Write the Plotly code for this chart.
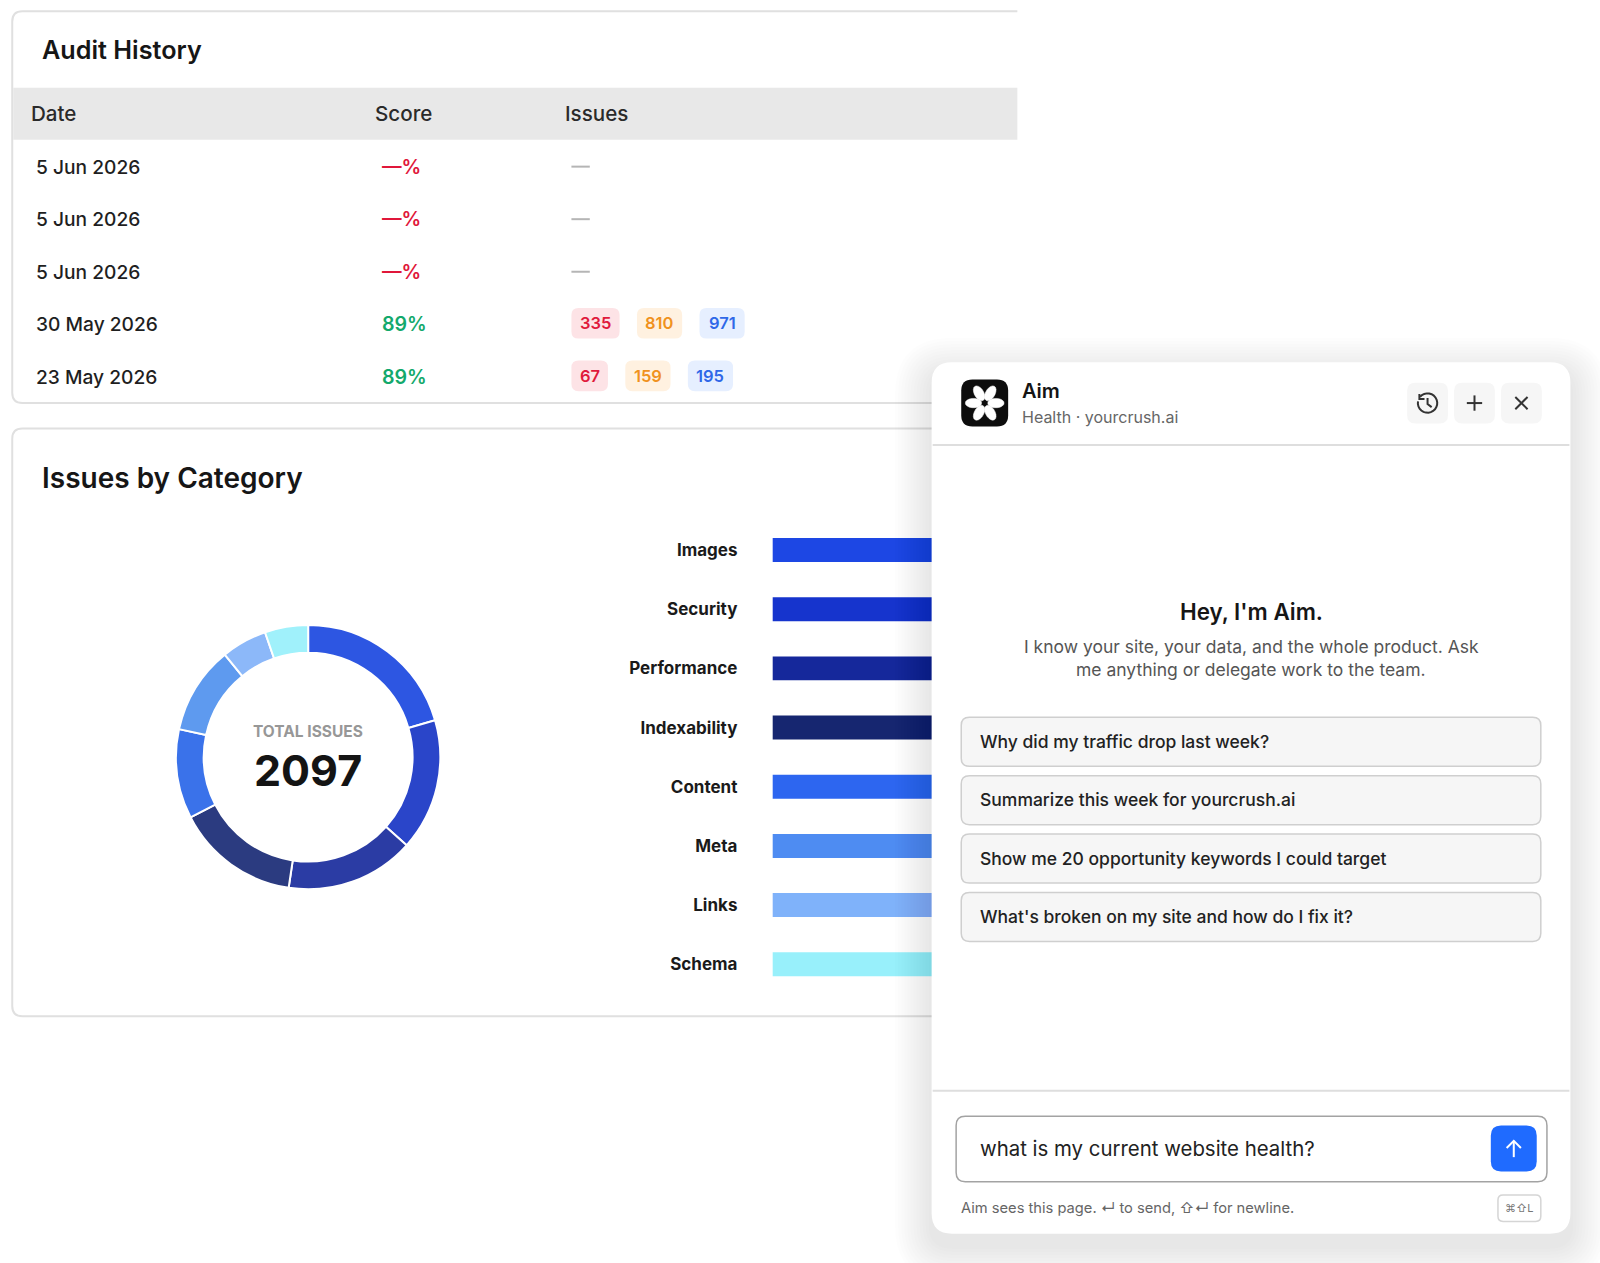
import math
import plotly.graph_objects as go

# Data #########################################################################
audit_dates = ['5 Jun 2026', '5 Jun 2026', '5 Jun 2026', '30 May 2026', '23 May 2026']
audit_scores = ['—%', '—%', '—%', '89%', '89%']
critical_counts = [None, None, None, 335, 67]
warning_counts = [None, None, None, 810, 159]
notice_counts = [None, None, None, 971, 195]
table_columns = ['Date', 'Score', 'Issues']

categories = ['Images', 'Security', 'Performance', 'Indexability',
              'Content', 'Meta', 'Links', 'Schema']
category_values = [430, 338, 330, 317, 229, 225, 117, 111]
bar_colors = ['#1d47e4', '#1634cd', '#15289b', '#162670',
              '#2d66f0', '#4e8cf2', '#7fb2fa', '#98f0fb']
donut_colors = ['#2d56e2', '#2a45c9', '#2b3ca4', '#2b3b80',
                '#3a72ea', '#5e9aef', '#8cb8f9', '#a0f1fb']
total_issues = sum(category_values)

prompts = ['Why did my traffic drop last week?',
           'Summarize this week for yourcrush.ai',
           'Show me 20 opportunity keywords I could target',
           "What's broken on my site and how do I fix it?"]

# Helpers ######################################################################
W, H = 1600, 1263
S = W / 1568  # layout below was measured on a 1568 wide view
FONT = 'Inter'
TEXT_PAD = 2.5  # annotations sit a little right of their anchor

shapes = []
annotations = []


def px(x, y):
    return x * S / W, 1 - y * S / H


def rounded_path(x0, y0, x1, y1, r):
    pts = [('M', x0 + r, y0), ('L', x1 - r, y0), ('Q', x1, y0, x1, y0 + r),
           ('L', x1, y1 - r), ('Q', x1, y1, x1 - r, y1), ('L', x0 + r, y1),
           ('Q', x0, y1, x0, y1 - r), ('L', x0, y0 + r), ('Q', x0, y0, x0 + r, y0)]
    out = ''
    for p in pts:
        coords = p[1:]
        out += p[0]
        bits = []
        for i in range(0, len(coords), 2):
            a, b = px(coords[i], coords[i + 1])
            bits.append(f'{a:.5f},{b:.5f}')
        out += ' '.join(bits) + ' '
    return out + 'Z'


def box(x0, y0, x1, y1, r, fill='rgba(0,0,0,0)', line=None, width=1.5):
    shapes.append(dict(type='path', xref='paper', yref='paper', layer='above',
                       path=rounded_path(x0, y0, x1, y1, r), fillcolor=fill,
                       line=dict(color=line or 'rgba(0,0,0,0)', width=width if line else 0)))


def polyline(points, color, width=2, fill=None, close=False):
    bits = []
    for i, (x, y) in enumerate(points):
        a, b = px(x, y)
        bits.append(('M' if i == 0 else 'L') + f'{a:.5f},{b:.5f}')
    shapes.append(dict(type='path', xref='paper', yref='paper', layer='above',
                       path=' '.join(bits) + (' Z' if close else ''),
                       fillcolor=fill or 'rgba(0,0,0,0)',
                       line=dict(color=color, width=width)))


def label(x, y, text, size, color='#1a1a1a', weight=400, anchor='left'):
    if anchor == 'left':
        x -= TEXT_PAD
    ax, ay = px(x, y)
    annotations.append(dict(xref='paper', yref='paper', x=ax, y=ay, text=text,
                            showarrow=False, xanchor=anchor, yanchor='middle',
                            align=anchor,
                            font=dict(family=FONT, size=size, color=color, weight=weight)))


# Cards ########################################################################
for top, bottom in [(11, 395), (420, 996)]:
    shapes.append(dict(type='path', xref='paper', yref='paper', layer='above', path=(
        'M{0:.5f},{1:.5f} L{2:.5f},{1:.5f} Q{3:.5f},{1:.5f} {3:.5f},{4:.5f} '
        'L{3:.5f},{5:.5f} Q{3:.5f},{6:.5f} {2:.5f},{6:.5f} L{0:.5f},{6:.5f}').format(
            px(997, 0)[0], px(0, top)[1], px(22, 0)[0], px(12, 0)[0],
            px(0, top + 10)[1], px(0, bottom - 10)[1], px(0, bottom)[1]),
        fillcolor='rgba(0,0,0,0)', line=dict(color='#e0e0e0', width=2)))

# Audit history table
label(42, 49, 'Audit History', 25.2, '#161616', 600)
x0, y0 = px(13, 86)
x1, y1 = px(997, 137)
shapes.append(dict(type='rect', xref='paper', yref='paper', layer='above', x0=x0, x1=x1,
                   y0=y1, y1=y0, fillcolor='#e8e8e8', line=dict(width=0)))
for col, cx in zip(table_columns, [30.5, 368.5, 554.5]):
    label(cx, 111, col, 20.6, '#2a2a2a', 500)

badge_styles = [('#fde3e6', '#e01a3c'), ('#fff1e0', '#f0921e'), ('#e6efff', '#2f68e8')]
for i, (date, score) in enumerate(zip(audit_dates, audit_scores)):
    row_y = 163.3 + i * 51.5
    label(36, row_y, date, 19.2, '#1f1f1f', 500)
    label(375, row_y, score, 19.6, '#e0173a' if score.startswith('—') else '#13a96c', 600)
    counts = [critical_counts[i], warning_counts[i], notice_counts[i]]
    if counts[0] is None:
        polyline([(560, row_y), (578, row_y)], '#b5b5b5', 2)
        continue
    cursor = 560
    for count, (bg, fg) in zip(counts, badge_styles):
        text = str(count)
        bw = 13 + sum(8.5 if ch == '1' else 11.4 for ch in text)
        box(cursor, row_y - 16, cursor + bw, row_y + 14, 7, fill=bg)
        label(cursor + bw / 2, row_y - 1, text, 16.5, fg, 600, 'center')
        cursor += bw + 17

label(42, 468.5, 'Issues by Category', 28, '#161616', 600)

# Donut + bars #################################################################
cx, cy, outer = 302 * S, 742 * S, 129.5 * S
data = []
data.append(go.Pie(labels=categories, values=category_values, sort=False, direction='clockwise',
                   rotation=0, hole=0.79, textinfo='none', showlegend=False,
                   marker=dict(colors=donut_colors, line=dict(color='#ffffff', width=2)),
                   domain=dict(x=[(cx - outer) / W, (cx + outer) / W],
                               y=[1 - (cy + outer) / H, 1 - (cy - outer) / H])))
label(302, 717, 'TOTAL ISSUES', 15.5, '#979797', 700, 'center')
label(302, 755, str(total_issues), 43, '#141414', 700, 'center')

data.append(go.Bar(y=categories, x=category_values, orientation='h', showlegend=False,
                   marker=dict(color=bar_colors, line=dict(width=0))))

bar_left = 757 * S
step = 58 * S
bar_top = 539 * S - step / 2

fig = go.Figure(data=data)

# Aim panel ####################################################################
for k in range(12):
    grow = 36 - k * 3
    box(913 - grow, 355 + 12 - grow, 1539 + grow, 1209 + 12 + grow, 20 + grow,
        fill='rgba(0,0,0,0.007)')
box(913, 355, 1539, 1209, 20, fill='#ffffff')
polyline([(914, 436), (1538, 436)], '#dedede', 2)
polyline([(914, 1069), (1538, 1069)], '#dedede', 2)

# logo
box(942, 372, 988, 418, 11, fill='#0d0d0d')
for a in range(30, 360, 60):
    t = math.radians(a)
    ux, uy = math.sin(t), -math.cos(t)
    mx, my = 965 + ux * 11, 395 + uy * 11
    pts = []
    for b in range(0, 360, 20):
        u = math.radians(b)
        p, q = 8 * math.cos(u), 4.6 * math.sin(u)
        pts.append((mx + ux * p - uy * q, my + uy * p + ux * q))
    polyline(pts, '#ffffff', 0.5, fill='#ffffff', close=True)

label(1002, 383, 'Aim', 20, '#141414', 600)
label(1002, 409, 'Health · yourcrush.ai', 16, '#666666')

# header buttons
for bx in [1379, 1425, 1471]:
    box(bx, 375, bx + 40, 415, 8, fill='#f6f6f6')
polyline([(1437.5, 395), (1452.5, 395)], '#333333', 2)
polyline([(1445, 387.5), (1445, 402.5)], '#333333', 2)
polyline([(1485, 389), (1497, 401)], '#333333', 2)
polyline([(1497, 389), (1485, 401)], '#333333', 2)
clock = [(1399 + 9.5 * math.cos(math.radians(a)), 395 + 9.5 * math.sin(math.radians(a)))
         for a in range(-140, 200, 15)]
polyline(clock, '#333333', 2)
polyline([(1391, 386), (1391, 391), (1396, 391)], '#333333', 2)
polyline([(1399, 390), (1399, 396), (1403, 399)], '#333333', 2)

label(1226, 599, "Hey, I'm Aim.", 22.4, '#161616', 600, 'center')
label(1226, 634, 'I know your site, your data, and the whole product. Ask', 17.5, '#555555', 400, 'center')
label(1226, 656.5, 'me anything or delegate work to the team.', 17.5, '#555555', 400, 'center')

for i, prompt in enumerate(prompts):
    top = 703 + i * 57.2
    box(942, top, 1510, top + 48, 8, fill='#f6f6f6', line='#cfcfcf', width=1.5)
    label(961, top + 23.5, prompt, 17.5, '#222222', 500)

# input
box(937, 1094, 1516, 1158, 9, fill='#ffffff', line='#a3a3a3', width=1.5)
label(961, 1125.5, 'what is my current website health?', 20.4, '#222222', 400)
box(1461, 1103, 1506, 1148, 10, fill='#1f6bff')
polyline([(1483.5, 1134), (1483.5, 1118)], '#ffffff', 2)
polyline([(1476.5, 1125), (1483.5, 1118), (1490.5, 1125)], '#ffffff', 2)

label(942, 1184, 'Aim sees this page. ↵ to send, ⇧↵ for newline.', 14.7, '#666666')
box(1468, 1171, 1510, 1197, 5, fill='#ffffff', line='#d5d5d5', width=1.5)
label(1489, 1184, '⌘⇧L', 11, '#777777', 400, 'center')

# Layout #######################################################################
# the shortest bar still has to reach behind the panel
x_scale = 1.46
fig.update_layout(
    width=W, height=H, margin=dict(l=0, r=0, t=0, b=0, pad=0),
    paper_bgcolor='#ffffff', plot_bgcolor='rgba(0,0,0,0)',
    bargap=1 - 23.5 / 58,
    shapes=shapes, annotations=annotations,
    xaxis=dict(domain=[bar_left / W, 1], range=[0, (W - bar_left) / x_scale],
               visible=False, fixedrange=True),
    yaxis=dict(domain=[1 - (bar_top + 8 * step) / H, 1 - bar_top / H],
               autorange='reversed', showgrid=False, zeroline=False, showline=False,
               ticks='', ticklabelstandoff=34, fixedrange=True,
               tickfont=dict(family=FONT, size=17, color='#1a1a1a', weight=700)),
)

fig.write_html("out.html", config={'displayModeBar': False},
               post_script="document.body.style.margin='0';")
